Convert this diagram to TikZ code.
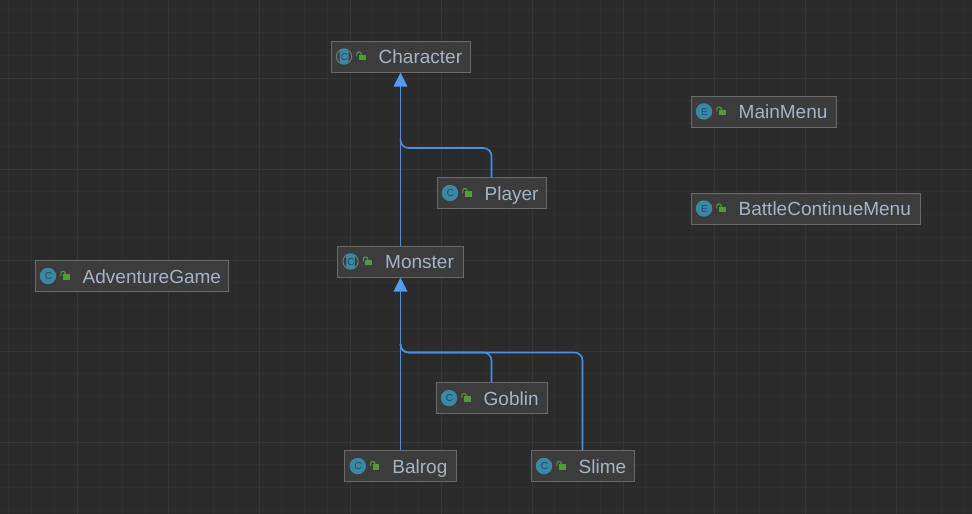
\documentclass[tikz,border=0pt]{standalone}
\usepackage{fontspec}
\setmainfont{Liberation Sans}
\usepackage{xcolor}
\usetikzlibrary{calc,arrows.meta}

\definecolor{canvasbg}{HTML}{2B2B2B}
\definecolor{minorline}{HTML}{303030}
\definecolor{majorline}{HTML}{373737}
\definecolor{boxfill}{HTML}{3C3C3C}
\definecolor{boxline}{HTML}{6A6A6A}
\definecolor{boxtext}{HTML}{A6B5C6}
\definecolor{iconteal}{HTML}{3A87A6}
\definecolor{iconletter}{HTML}{234B5C}
\definecolor{iconring}{HTML}{7A7A7A}
\definecolor{lockgreen}{HTML}{529A3C}
\definecolor{edgeblue}{HTML}{4C8FE0}
\definecolor{tipblue}{HTML}{559BF5}

\tikzset{
  classbox/.style={draw=boxline, fill=boxfill, line width=1pt, minimum height=31pt, inner sep=0pt},
  classname/.style={anchor=base west, inner sep=0pt, text=boxtext, font=\fontsize{19}{23}\selectfont},
  classicon/.style={circle, fill=iconteal, minimum size=16.5pt, inner sep=0pt},
  iconmark/.style={inner sep=0pt, text=iconletter, font=\fontsize{10}{11}\selectfont},
  inherit/.style={draw=edgeblue, line width=1.6pt, rounded corners=8pt},
  inherittip/.style={-{Triangle[length=14pt,width=13.5pt,color=tipblue]}}
}

\begin{document}
\begin{tikzpicture}[x=1pt,y=-1pt]

\useasboundingbox [fill=canvasbg] (0,0) rectangle (972,514);

% grid
\foreach \i in {0,...,42} {
  \draw [minorline, line width=1pt] ({8.75+22.75*\i},0) -- ({8.75+22.75*\i},514);
}
\foreach \i in {0,...,22} {
  \draw [minorline, line width=1pt] (0,{9.75+22.75*\i}) -- (972,{9.75+22.75*\i});
}
\foreach \i in {0,...,10} {
  \draw [majorline, line width=1pt] ({77+91*\i},0) -- ({77+91*\i},514);
}
\foreach \i in {0,...,4} {
  \draw [majorline, line width=1pt] (0,{78+91*\i}) -- (972,{78+91*\i});
}

% classes
\foreach \nm/\cx/\cy/\bw/\txt/\kind in {
  character/400.5/56.5/139/Character/C,
  player/491.5/193/109/Player/C,
  monster/400.5/261.5/126/Monster/C,
  goblin/491.5/398/111/Goblin/C,
  balrog/400.5/466/111.5/Balrog/C,
  slime/582.5/466/103/Slime/C,
  adventuregame/131.5/276/193/AdventureGame/C,
  mainmenu/763.5/111.5/145/MainMenu/E,
  battlecontinuemenu/805.5/208.5/229/BattleContinueMenu/E}
{
  \node [classbox, minimum width=\bw pt] (\nm) at (\cx,\cy) {};
  \node [classicon] (\nm icon) at ($(\nm.west)+(13.5,0)$) {};
  \node [classname] (\nm text) at ($(\nm.west)+(48,7)$) {\txt};
  % open padlock
  \coordinate (\nm lock) at ($(\nm.west)+(31.5,0.8)$);
  \fill [lockgreen] ($(\nm lock)+(-3.2,-2.7)$) rectangle ($(\nm lock)+(3.6,2.9)$);
  \draw [lockgreen, line width=1.1pt] ($(\nm lock)+(-5.2,-1)$) -- ($(\nm lock)+(-5.2,-3.2)$)
    arc (180:360:2.2) -- ($(\nm lock)+(-0.8,-2.5)$);
}

% abstract classes: ring at the sides, band in the middle
\foreach \nm in {character,monster} {
  \begin{scope}
    \clip ($(\nm icon)+(-9,-9)$) rectangle ($(\nm icon)+(-4.5,9)$)
          ($(\nm icon)+(4.5,-9)$) rectangle ($(\nm icon)+(9,9)$);
    \fill [boxfill] (\nm icon) circle (8.6pt);
    \draw [iconring, line width=1pt] (\nm icon) circle (7.6pt);
  \end{scope}
}

\foreach \nm/\kind in {
  character/C, player/C, monster/C, goblin/C, balrog/C, slime/C,
  adventuregame/C, mainmenu/E, battlecontinuemenu/E}
{
  \node [iconmark] (\nm mark) at ($(\nm icon)+(0.5,0.5)$) {\kind};
}

\coordinate (playerbend) at (400.5,148);
\coordinate (monsterbend) at (400.5,352.5);

\draw [inherit] (player.north) |- (playerbend) -- ($(playerbend)+(0,-8.5)$);
\draw [inherit] (goblin.north) |- (monsterbend) -- ($(monsterbend)+(0,-8.5)$);
\draw [inherit] (slime.north) |- (monsterbend) -- ($(monsterbend)+(0,-8.5)$);

\draw [draw=edgeblue, line width=1.8pt, inherittip] (monster.north) -- (character.south);
\draw [draw=edgeblue, line width=1.8pt, inherittip] (balrog.north) -- (monster.south);

\end{tikzpicture}
\end{document}
